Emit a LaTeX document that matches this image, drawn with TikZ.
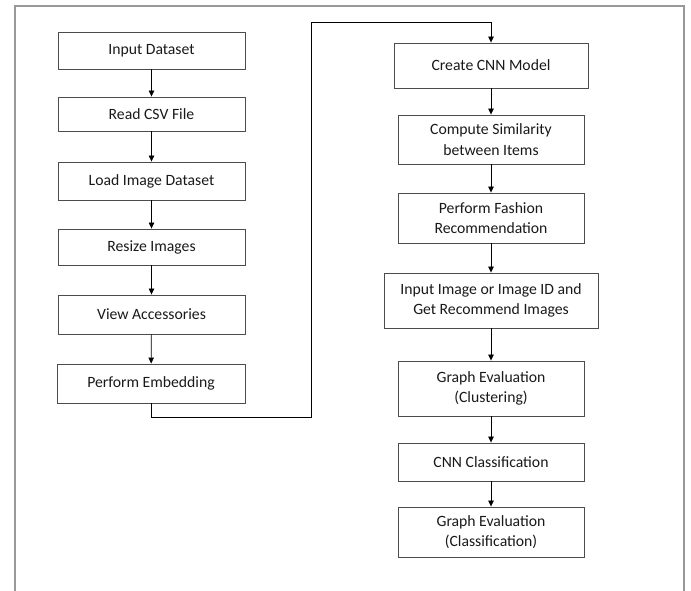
\documentclass[tikz,border=0pt]{standalone}
\usepackage{fontspec}
\setmainfont{Carlito}
\usetikzlibrary{arrows.meta}
\begin{document}
\begin{tikzpicture}[x=1pt,y=-1pt,
  box/.style={draw=black!70,line width=0.9pt,rectangle,inner sep=0pt,align=center,
    font=\fontsize{15.7}{20.7}\selectfont,text=black!90},
  flow/.style={draw=black,line width=0.7pt,-{Triangle[length=6pt,width=5.5pt]}},
  frame/.style={draw=black!40,line width=1.6pt}]
\useasboundingbox (0,0) rectangle (691,591);
\draw[frame] (15,591) -- (15,6) -- (684,6) -- (684,591);
% left column
\node[box,minimum width=187pt,minimum height=37pt] (n1) at (151.5,50.5) {Input Dataset};
\node[box,minimum width=187pt,minimum height=34pt] (n2) at (151.5,114) {Read CSV File};
\node[box,minimum width=187pt,minimum height=38pt] (n3) at (151.5,181) {Load Image Dataset};
\node[box,minimum width=187pt,minimum height=36pt] (n4) at (151.5,247) {Resize Images};
\node[box,minimum width=187pt,minimum height=39pt] (n5) at (151.5,314.5) {View Accessories};
\node[box,minimum width=188pt,minimum height=39pt] (n6) at (151,383.5) {Perform Embedding};
% right column
\node[box,minimum width=194pt,minimum height=45pt] (m1) at (491,65.5) {Create CNN Model};
\node[box,minimum width=186pt,minimum height=49pt] (m2) at (491,139.5) {Compute Similarity\\between Items};
\node[box,minimum width=186pt,minimum height=50pt] (m3) at (491,218) {Perform Fashion\\Recommendation};
\node[box,minimum width=214pt,minimum height=55pt] (m4) at (491,300.5) {Input Image or Image ID and\\Get Recommend Images};
\node[box,minimum width=186pt,minimum height=55pt] (m5) at (491,388.5) {Graph Evaluation\\(Clustering)};
\node[box,minimum width=186pt,minimum height=38pt] (m6) at (491,462) {CNN Classification};
\node[box,minimum width=186pt,minimum height=50pt] (m7) at (491,532) {Graph Evaluation\\(Classification)};
% connectors
\draw[flow] (n1) -- (n2);
\draw[flow] (n2) -- (n3);
\draw[flow] (n3) -- (n4);
\draw[flow] (n4) -- (n5);
\draw[flow] (n5) -- (n6);
\coordinate (turn) at (311.5,22);
\draw[flow] (n6.south) -- ++(0,14) -| (turn) -| (m1.north);
\draw[flow] (m1) -- (m2);
\draw[flow] (m2) -- (m3);
\draw[flow] (m3) -- (m4);
\draw[flow] (m4) -- (m5);
\draw[flow] (m5) -- (m6);
\draw[flow] (m6) -- (m7);
\end{tikzpicture}
\end{document}
